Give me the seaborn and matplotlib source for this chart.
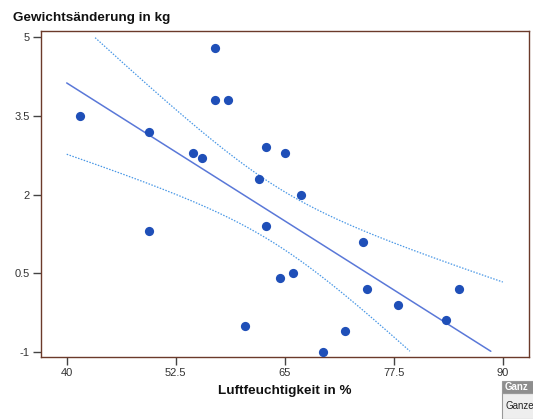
import matplotlib
matplotlib.use('Agg')
import matplotlib.pyplot as plt
from matplotlib.patches import Rectangle
import numpy as np
import pandas as pd
import seaborn as sns

# humidity (%) vs. weight change (kg)
humidity = [41.5, 49.4, 49.4, 54.5, 55.5, 57.0, 57.0, 58.5, 60.4, 62.0, 62.9, 62.9,
            64.5, 65.0, 65.9, 66.9, 69.4, 71.9, 74.0, 74.4, 78.0, 83.5, 85.0]
weight = [3.5, 3.2, 1.3, 2.8, 2.7, 4.8, 3.8, 3.8, -0.5, 2.3, 2.9, 1.4,
          0.4, 2.8, 0.5, 2.0, -1.0, -0.6, 1.1, 0.2, -0.1, -0.4, 0.2]
xticks = [40, 52.5, 65, 77.5, 90]
yticks = [-1, 0.5, 2, 3.5, 5]
xlabels = ['40', '52.5', '65', '77.5', '90']
ylabels = ['-1', '0.5', '2', '3.5', '5']

PT = '#1f4fb8'
FIT = '#5a78d8'
CI = '#4a98e6'
FRAME = '#6b3a2a'

df = pd.DataFrame({'x': humidity, 'y': weight})

# least squares fit + 95% confidence band of the mean
x = np.array(humidity)
y = np.array(weight)
n = len(x)
b, a = np.polyfit(x, y, 1)
resid = y - (a + b * x)
s = np.sqrt(np.sum(resid ** 2) / (n - 2))
sxx = np.sum((x - x.mean()) ** 2)
t = 2.080  # t(0.975, df=21)
grid = np.linspace(xticks[0], xticks[-1], 400)
fit = a + b * grid
hw = t * s * np.sqrt(1 / n + (grid - x.mean()) ** 2 / sxx)
ymin, ymax = yticks[0], yticks[-1]


def clip(v):
    v = v.copy()
    v[(v < ymin) | (v > ymax)] = np.nan
    return v


sns.set_style('white')
plt.rcParams['font.family'] = ['Liberation Sans', 'DejaVu Sans']

fig = plt.figure(figsize=(5.33, 4.19), dpi=100)
ax = fig.add_axes([0.0769, 0.148, 0.9156, 0.778])

ax.plot(grid, clip(fit), color=FIT, lw=1.1)
ax.plot(grid, clip(fit + hw), color=CI, lw=0.9, ls=(0, (1.2, 1.2)))
ax.plot(grid, clip(fit - hw), color=CI, lw=0.9, ls=(0, (1.2, 1.2)))
sns.scatterplot(data=df, x='x', y='y', ax=ax, color=PT, s=44, edgecolor=PT,
                linewidth=0, zorder=3)

ax.set_xlim(37.05, 93.0)
ax.set_ylim(-1.10, 5.12)
ax.set_xticks(xticks)
ax.set_xticklabels(xlabels)
ax.set_yticks(yticks)
ax.set_yticklabels(ylabels)
ax.tick_params(axis='both', direction='out', length=6, width=1, color='#444444',
               labelsize=8, labelcolor='#333333', pad=2, left=True, bottom=True)
for sp in ax.spines.values():
    sp.set_color(FRAME)
    sp.set_linewidth(1.0)
ax.set_xlabel('')
ax.set_ylabel('')

fig.text(0.024, 0.957, 'Gewichtsänderung in kg', fontsize=9.7, fontweight='bold',
         ha='left', va='center', color='#111111')
fig.text(0.535, 0.067, 'Luftfeuchtigkeit in %', fontsize=9.7, fontweight='bold',
         ha='center', va='center', color='#111111')

# clipped legend box in the lower right corner
fig.patches.append(Rectangle((502 / 533, 0), 40 / 533, 26 / 419, transform=fig.transFigure,
                             facecolor='#eeeeee', edgecolor='#999999', lw=0.8))
fig.patches.append(Rectangle((502 / 533, 26 / 419), 40 / 533, 12 / 419,
                             transform=fig.transFigure,
                             facecolor='#8e8e8e', edgecolor='#999999', lw=0.8))
fig.text(505 / 533, 32 / 419, 'Ganz', fontsize=7, fontweight='bold', color='white',
         ha='left', va='center')
fig.text(505 / 533, 13 / 419, 'Ganze', fontsize=7, color='#222222',
         ha='left', va='center')

fig.savefig('out.png', dpi=100)
